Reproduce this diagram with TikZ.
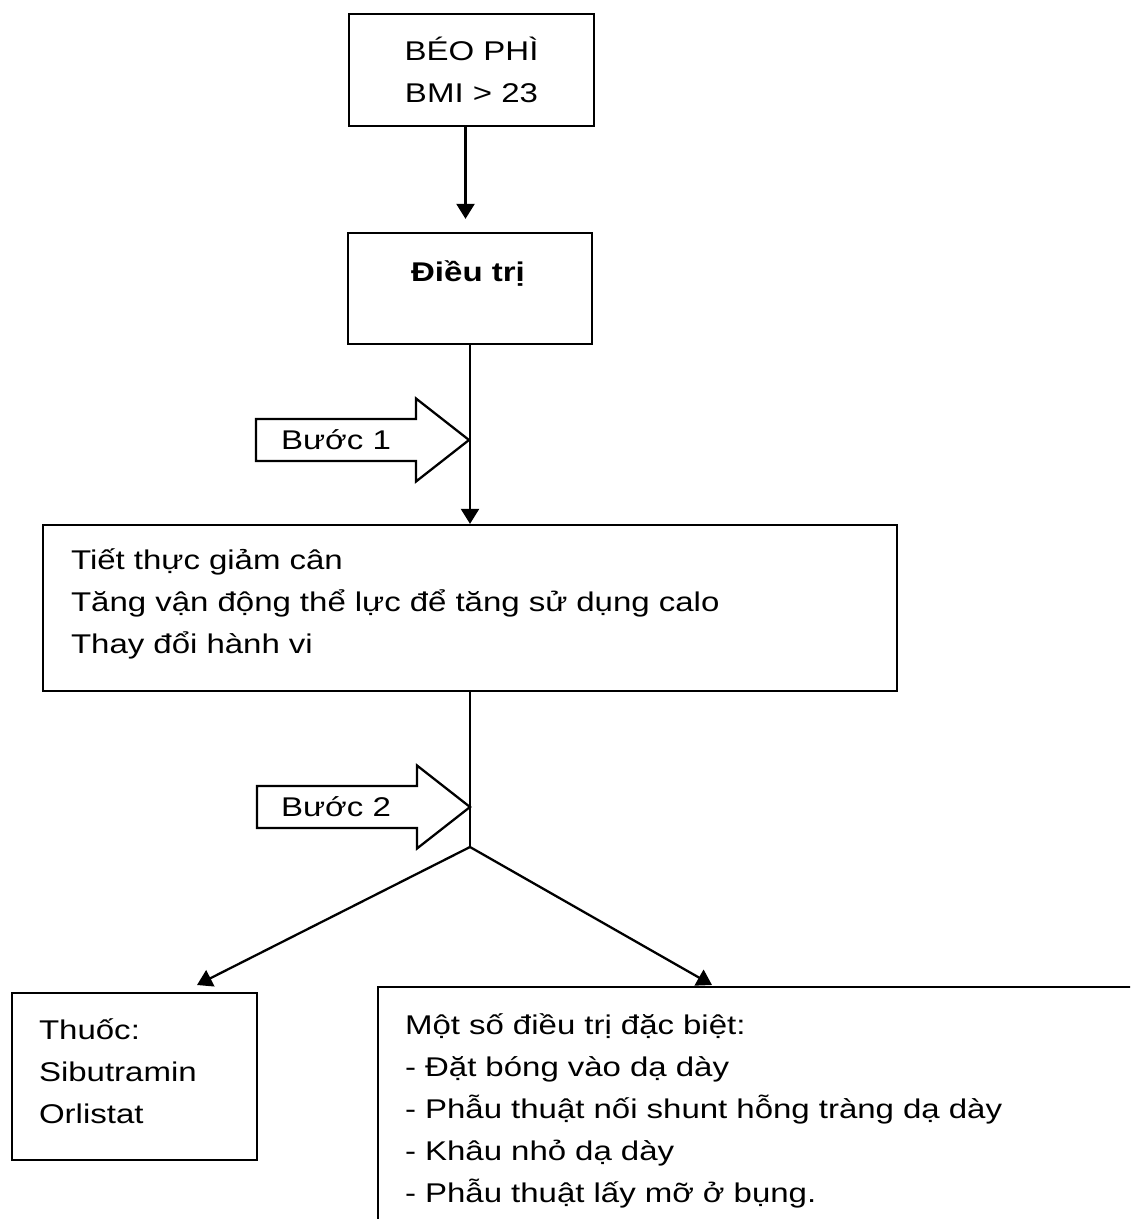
\documentclass[tikz,border=0pt]{standalone}
\usepackage{fontspec}
\setmainfont{Liberation Sans}[FakeStretch=1.22]
\usetikzlibrary{arrows.meta,positioning}
\newcommand\chu{\fontsize{15.4}{23.9}\selectfont}
\tikzset{
  hop/.style={draw,line width=1.3pt,inner xsep=0.54cm,inner ysep=0pt},
  hopchu/.style={hop,align=left},
  muiten/.style={line width=1.3pt,-{Triangle[length=0.3cm,width=0.36cm]}},
  buoc/.pic={\draw[line width=1.3pt](0,0)--(-53,-41.5)--(-53,-21)--(-213,-21)--(-213,21)--(-53,21)--(-53,41.5)--cycle;}
}
\begin{document}
\begin{tikzpicture}[x=0.02cm,y=-0.02cm,font=\chu]
\useasboundingbox(0,0)rectangle(1130,1219);
\clip(0,0)rectangle(1130,1219);
%boxes
\node[hop,minimum width=4.9cm,minimum height=2.24cm,align=center](beo)at(471.5,70){BÉO PHÌ\\BMI > 23};
\node[hop,minimum width=4.88cm,minimum height=2.22cm](dieutri)at(470,288.5){};
\node[font=\chu\bfseries,anchor=base](dieutrichu)at(468,282){Điều trị};
\node[hopchu,inner xsep=0.56cm,minimum width=17.08cm,minimum height=3.32cm,text width=15.96cm,text depth=55.5pt](tietthuc)at(470,608){Tiết thực giảm cân\\Tăng vận động thể lực để tăng sử dụng calo\\Thay đổi hành vi};
\node[hopchu,minimum width=4.9cm,minimum height=3.34cm,text width=3.82cm,text depth=53.5pt](thuoc)at(134.5,1076.5){Thuốc:\\Sibutramin\\Orlistat};
\node[hopchu,minimum width=16cm,minimum height=5.04cm,text width=14.92cm,text depth=101.5pt](dacbiet)at(778,1113){Một số điều trị đặc biệt:\\- Đặt bóng vào dạ dày\\- Phẫu thuật nối shunt hỗng tràng dạ dày\\- Khâu nhỏ dạ dày\\- Phẫu thuật lấy mỡ ở bụng.};
%arrows
\draw[muiten,shorten >=0.26cm]([xshift=-0.12cm]beo.south)--([xshift=-0.12cm]beo.south|-dieutri.north);
\draw[muiten](dieutri)--(tietthuc);
\coordinate(re)at(470,847); %split
\coordinate(muithuoc)at(197,985);
\coordinate(muidacbiet)at(712,985);
\draw[line width=1.3pt](tietthuc.south)--(re);
\draw[muiten](re)--(muithuoc);
\draw[muiten](re)--(muidacbiet);
%buoc 1, buoc 2
\pic at(469,440){buoc};
\node(buoc1)at(336,440){Bước 1};
\pic at(470,807){buoc};
\node(buoc2)at(336,807){Bước 2};
\end{tikzpicture}
\end{document}
